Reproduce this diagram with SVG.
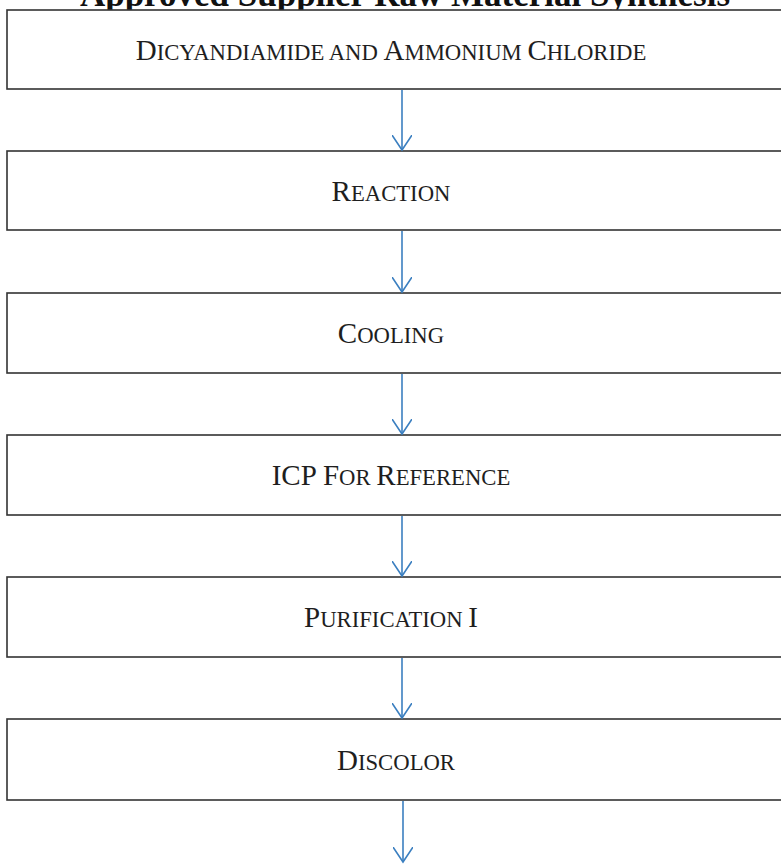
<svg xmlns="http://www.w3.org/2000/svg" width="781" height="864" viewBox="0 0 781 864">
<defs>
<style>
.box{fill:#fff;stroke:#333;stroke-width:1.6}
.lbl{font-family:"Liberation Serif","Times New Roman",serif;fill:#1e1e1e;text-anchor:middle}
.big{font-size:29px}
.sm{font-size:22.7px}
.title{font-family:"Liberation Serif","Times New Roman",serif;font-weight:bold;font-size:35px;fill:#111;text-anchor:middle}
.conn{stroke:#3b7fc0;stroke-width:1.6;fill:none}
</style>
<marker id="ah" markerWidth="24" markerHeight="20" refX="15" refY="10" orient="auto" markerUnits="userSpaceOnUse">
<path d="M0,0 L15,10 L0,20" fill="none" stroke="#3b7fc0" stroke-width="1.6"/>
</marker>
</defs>
<rect width="781" height="864" fill="#fff"/>
<text class="title" x="405" y="6">Approved Supplier Raw Material Synthesis</text>
<g id="n1"><rect class="box" x="7" y="10" width="800" height="79"/>
<text class="lbl" x="391" y="60"><tspan class="big">D</tspan><tspan class="sm">ICYANDIAMIDE AND </tspan><tspan class="big">A</tspan><tspan class="sm">MMONIUM </tspan><tspan class="big">C</tspan><tspan class="sm">HLORIDE</tspan></text></g>
<g id="n2"><rect class="box" x="7" y="151" width="800" height="79"/>
<text class="lbl" x="391" y="201"><tspan class="big">R</tspan><tspan class="sm">EACTION</tspan></text></g>
<g id="n3"><rect class="box" x="7" y="293" width="800" height="80"/>
<text class="lbl" x="391" y="343"><tspan class="big">C</tspan><tspan class="sm">OOLING</tspan></text></g>
<g id="n4"><rect class="box" x="7" y="435" width="800" height="80"/>
<text class="lbl" x="391" y="485"><tspan class="big">ICP F</tspan><tspan class="sm">OR </tspan><tspan class="big">R</tspan><tspan class="sm">EFERENCE</tspan></text></g>
<g id="n5"><rect class="box" x="7" y="577" width="800" height="80"/>
<text class="lbl" x="391" y="627"><tspan class="big">P</tspan><tspan class="sm">URIFICATION </tspan><tspan class="big">I</tspan></text></g>
<g id="n6"><rect class="box" x="7" y="719" width="800" height="81"/>
<text class="lbl" x="396" y="770"><tspan class="big">D</tspan><tspan class="sm">ISCOLOR</tspan></text></g>
<g id="connectors">
<line class="conn" x1="402" y1="90" x2="402" y2="150" marker-end="url(#ah)"/>
<line class="conn" x1="402" y1="231" x2="402" y2="292" marker-end="url(#ah)"/>
<line class="conn" x1="402" y1="374" x2="402" y2="434" marker-end="url(#ah)"/>
<line class="conn" x1="402" y1="516" x2="402" y2="576" marker-end="url(#ah)"/>
<line class="conn" x1="402" y1="658" x2="402" y2="718" marker-end="url(#ah)"/>
<line class="conn" x1="403" y1="801" x2="403" y2="862" marker-end="url(#ah)"/>
</g>
</svg>
